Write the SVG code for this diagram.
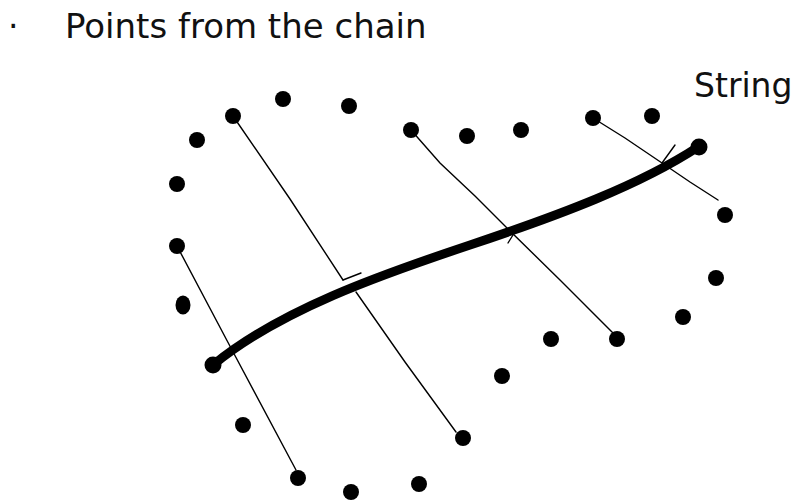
<svg xmlns="http://www.w3.org/2000/svg" width="793" height="501" viewBox="0 0 793 501">
<style>
.t{font-family:"DejaVu Sans",sans-serif;font-size:33px;fill:#111}
.title{font-size:34px}
.p{fill:#000}
.thin{stroke:#000;stroke-width:1.4;fill:none;stroke-linecap:round}
.str{stroke:#000;stroke-width:9;fill:none;stroke-linecap:round;stroke-linejoin:round}
</style>
<rect width="793" height="501" fill="#fff"/>
<text class="t" x="8" y="38">·</text>
<text class="t title" x="65" y="38">Points from the chain</text>
<text class="t" x="694" y="97">String</text>
<g id="connectors">
<polyline class="thin" points="233,116 290,199 343,280"/>
<polyline class="thin" points="356,292 405,362 456,432"/>
<line class="thin" x1="343" y1="280" x2="361" y2="273"/>
<polyline class="thin" points="177,246 232,350 296,470"/>
<polyline class="thin" points="411,130 440,163 475,196 507,228 560,280 613,333"/>
<line class="thin" x1="508" y1="243" x2="513" y2="235"/>
<polyline class="thin" points="593,118 625,138 662,163 690,182 718,200"/>
<line class="thin" x1="662" y1="163" x2="675" y2="145"/>
<path id="string" class="str" d="M213,365 C280,310 380,275 470,245 S640,185 698,147"/>
</g>
<g id="points">
<circle class="p" cx="213" cy="365" r="8.5"/>
<circle class="p" cx="699" cy="147" r="8.5"/>
<circle class="p" cx="233" cy="116" r="8"/>
<circle class="p" cx="283" cy="99" r="8"/>
<circle class="p" cx="349" cy="106" r="8"/>
<circle class="p" cx="197" cy="140" r="8"/>
<circle class="p" cx="177" cy="184" r="8"/>
<circle class="p" cx="177" cy="246" r="8"/>
<ellipse class="p" cx="183" cy="305" rx="7.5" ry="9.5"/>
<circle class="p" cx="243" cy="425" r="8"/>
<circle class="p" cx="298" cy="478" r="8"/>
<circle class="p" cx="351" cy="492" r="8"/>
<circle class="p" cx="419" cy="484" r="8"/>
<circle class="p" cx="463" cy="438" r="8"/>
<circle class="p" cx="502" cy="376" r="8"/>
<circle class="p" cx="551" cy="339" r="8"/>
<circle class="p" cx="617" cy="339" r="8"/>
<circle class="p" cx="683" cy="317" r="8"/>
<circle class="p" cx="716" cy="278" r="8"/>
<circle class="p" cx="725" cy="215" r="8"/>
<circle class="p" cx="652" cy="116" r="8"/>
<circle class="p" cx="593" cy="118" r="8"/>
<circle class="p" cx="521" cy="130" r="8"/>
<circle class="p" cx="467" cy="136" r="8"/>
<circle class="p" cx="411" cy="130" r="8"/>
</g>
</svg>
